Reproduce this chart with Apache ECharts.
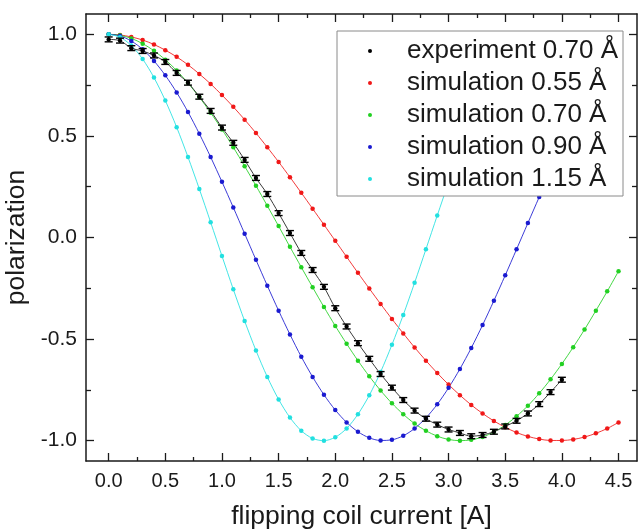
<!DOCTYPE html>
<html>
<head>
<meta charset="utf-8">
<style>
  html, body { margin: 0; padding: 0; background: #fff; }
  #chart { width: 641px; height: 531px; }
</style>
<script src="https://cdn.jsdelivr.net/npm/echarts@6/dist/echarts.min.js"></script>
</head>
<body>
<div id="chart"></div>
<script>
// Flipping coil current [A] for the simulated curves
const currents = [0.0, 0.1, 0.2, 0.3, 0.4, 0.5, 0.6, 0.7, 0.8, 0.9,
  1.0, 1.1, 1.2, 1.3, 1.4, 1.5, 1.6, 1.7, 1.8, 1.9,
  2.0, 2.1, 2.2, 2.3, 2.4, 2.5, 2.6, 2.7, 2.8, 2.9,
  3.0, 3.1, 3.2, 3.3, 3.4, 3.5, 3.6, 3.7, 3.8, 3.9,
  4.0, 4.1, 4.2, 4.3, 4.4, 4.5];

// Simulated polarization, wavelength 0.55 Å
const sim055 = [1.000, 0.997, 0.987, 0.972, 0.950, 0.922, 0.889, 0.850, 0.805, 0.756,
  0.701, 0.643, 0.580, 0.514, 0.444, 0.372, 0.297, 0.220, 0.142, 0.063,
  -0.016, -0.095, -0.174, -0.251, -0.327, -0.401, -0.472, -0.541, -0.606, -0.667,
  -0.724, -0.776, -0.824, -0.866, -0.903, -0.934, -0.960, -0.979, -0.992, -0.999,
  -0.999, -0.994, -0.982, -0.964, -0.940, -0.910];

// Simulated polarization, wavelength 0.70 Å
const sim070 = [1.000, 0.995, 0.980, 0.954, 0.919, 0.875, 0.822, 0.760, 0.691, 0.614,
  0.532, 0.444, 0.351, 0.255, 0.156, 0.056, -0.046, -0.146, -0.245, -0.342,
  -0.435, -0.523, -0.606, -0.683, -0.753, -0.816, -0.870, -0.916, -0.951, -0.978,
  -0.994, -1.000, -0.996, -0.982, -0.957, -0.923, -0.880, -0.828, -0.767, -0.698,
  -0.622, -0.540, -0.453, -0.360, -0.265, -0.166];

// Simulated polarization, wavelength 0.90 Å
const sim090 = [1.000, 0.992, 0.967, 0.926, 0.869, 0.798, 0.714, 0.618, 0.511, 0.396,
  0.274, 0.148, 0.019, -0.110, -0.237, -0.360, -0.477, -0.587, -0.686, -0.774,
  -0.849, -0.910, -0.956, -0.986, -0.999, -0.996, -0.976, -0.940, -0.888, -0.821,
  -0.740, -0.647, -0.544, -0.431, -0.311, -0.186, -0.058, 0.071, 0.199, 0.324,
  0.443, 0.555, 0.657, 0.749, 0.828, 0.894];

// Simulated polarization, wavelength 1.15 Å
const sim115 = [1.000, 0.986, 0.945, 0.878, 0.787, 0.674, 0.543, 0.396, 0.239, 0.075,
  -0.091, -0.255, -0.411, -0.556, -0.686, -0.797, -0.886, -0.951, -0.989, -1.000,
  -0.983, -0.940, -0.870, -0.777, -0.662, -0.528, -0.381, -0.223, -0.058, 0.108,
  0.271, 0.426, 0.570, 0.698, 0.807, 0.894, 0.956, 0.991, 0.999, 0.980,
  0.934, 0.862, 0.766, 0.648, 0.512, 0.362];

// Measured polarization at 0.70 Å
const expCurrents = [0.0, 0.1, 0.2, 0.3, 0.4, 0.5, 0.6, 0.7, 0.8, 0.9,
  1.0, 1.1, 1.2, 1.3, 1.4, 1.5, 1.6, 1.7, 1.8, 1.9,
  2.0, 2.1, 2.2, 2.3, 2.4, 2.5, 2.6, 2.7, 2.8, 2.9,
  3.0, 3.1, 3.2, 3.3, 3.4, 3.5, 3.6, 3.7, 3.8, 3.9, 4.0];
const expValues = [0.975, 0.969, 0.932, 0.918, 0.896, 0.864, 0.810, 0.762, 0.693, 0.623,
  0.541, 0.466, 0.382, 0.293, 0.214, 0.120, 0.022, -0.076, -0.160, -0.243,
  -0.348, -0.438, -0.520, -0.597, -0.672, -0.739, -0.800, -0.852, -0.892, -0.921,
  -0.945, -0.962, -0.978, -0.972, -0.956, -0.930, -0.902, -0.866, -0.820, -0.761, -0.700];
const expErrors = [0.012, 0.012, 0.012, 0.012, 0.012, 0.012, 0.012, 0.012, 0.012, 0.012,
  0.012, 0.012, 0.012, 0.012, 0.012, 0.012, 0.012, 0.012, 0.012, 0.012,
  0.012, 0.012, 0.012, 0.012, 0.012, 0.012, 0.012, 0.012, 0.012, 0.012,
  0.012, 0.012, 0.012, 0.012, 0.012, 0.012, 0.012, 0.012, 0.012, 0.012, 0.012];

// Tick positions
const xMajor = [0.0, 0.5, 1.0, 1.5, 2.0, 2.5, 3.0, 3.5, 4.0, 4.5];
const xMinor = [0.25, 0.75, 1.25, 1.75, 2.25, 2.75, 3.25, 3.75, 4.25];
const yMajor = [-1.0, -0.5, 0.0, 0.5, 1.0];
const yMinor = [-0.75, -0.25, 0.25, 0.75];

const seriesNames = ['experiment 0.70 Å', 'simulation 0.55 Å', 'simulation 0.70 Å',
  'simulation 0.90 Å', 'simulation 1.15 Å'];
const simColors = ['#f01818', '#22d022', '#1a1ad0', '#22e0e0'];

const FONT = '"Liberation Sans", Arial, Helvetica, sans-serif';
const X_MIN = -0.2, X_MAX = 4.663, Y_MIN = -1.1, Y_MAX = 1.1;
const INK = '#1a1a1a';

function pairs(xs, ys) { return xs.map((x, i) => [x, ys[i]]); }

function xAxisDef(position, ticks, len, withLine, withLabels) {
  return {
    type: 'value', position: position, min: X_MIN, max: X_MAX, gridIndex: 0,
    axisLine: { show: withLine, onZero: false, lineStyle: { color: INK, width: 1.5 } },
    axisTick: { show: true, inside: true, length: len, customValues: ticks,
      lineStyle: { color: INK, width: 1.3 } },
    axisLabel: withLabels ? {
      show: true, customValues: ticks, margin: 10, fontSize: 20, color: INK, fontFamily: FONT,
      formatter: v => v.toFixed(1)
    } : { show: false },
    splitLine: { show: false }
  };
}
function yAxisDef(position, ticks, len, withLine, withLabels) {
  return {
    type: 'value', position: position, min: Y_MIN, max: Y_MAX, gridIndex: 0,
    axisLine: { show: withLine, onZero: false, lineStyle: { color: INK, width: 1.5 } },
    axisTick: { show: true, inside: true, length: len, customValues: ticks,
      lineStyle: { color: INK, width: 1.3 } },
    axisLabel: withLabels ? {
      show: true, customValues: ticks, margin: 9, fontSize: 21, color: INK, fontFamily: FONT,
      formatter: v => v.toFixed(1)
    } : { show: false },
    splitLine: { show: false }
  };
}

const xAxes = [
  xAxisDef('bottom', xMajor, 8, true, true),
  xAxisDef('bottom', xMinor, 4, false, false),
  xAxisDef('top', xMajor, 8, true, false),
  xAxisDef('top', xMinor, 4, false, false)
];
xAxes[0].name = 'flipping coil current [A]';
xAxes[0].nameLocation = 'middle';
xAxes[0].nameGap = 42;
xAxes[0].nameTextStyle = { fontSize: 26.5, color: INK, fontFamily: FONT };

const yAxes = [
  yAxisDef('left', yMajor, 8, true, true),
  yAxisDef('left', yMinor, 5, false, false),
  yAxisDef('right', yMajor, 8, true, false),
  yAxisDef('right', yMinor, 5, false, false)
];
yAxes[0].name = 'polarization';
yAxes[0].nameLocation = 'middle';
yAxes[0].nameGap = 46;
yAxes[0].nameTextStyle = { fontSize: 26.5, color: INK, fontFamily: FONT };

const simData = [sim055, sim070, sim090, sim115];
const series = [];

// measured curve (connecting line)
series.push({
  name: seriesNames[0], type: 'line', xAxisIndex: 0, yAxisIndex: 0,
  data: pairs(expCurrents, expValues), smooth: 0.3, showSymbol: false, symbol: 'circle',
  itemStyle: { color: '#000' }, lineStyle: { color: '#3a3a3a', width: 1 }, z: 4
});

simData.forEach((vals, k) => {
  series.push({
    name: seriesNames[k + 1], type: 'line', xAxisIndex: 0, yAxisIndex: 0,
    data: pairs(currents, vals), smooth: 0.3, symbol: 'circle', symbolSize: 4.5,
    itemStyle: { color: simColors[k] }, lineStyle: { color: simColors[k], width: 1, opacity: 0.85 },
    z: 3
  });
});

// measured points with error bars
series.push({
  type: 'custom', xAxisIndex: 0, yAxisIndex: 0, z: 5, clip: true,
  data: expCurrents.map((x, i) => [x, expValues[i], expErrors[i]]),
  renderItem: function (params, api) {
    const x = api.value(0), y = api.value(1), e = api.value(2);
    const top = api.coord([x, y + e]);
    const bot = api.coord([x, y - e]);
    const mid = api.coord([x, y]);
    const hw = 4;
    const st = { stroke: '#000', lineWidth: 1.4 };
    return {
      type: 'group',
      children: [
        { type: 'line', shape: { x1: top[0], y1: top[1], x2: bot[0], y2: bot[1] }, style: st },
        { type: 'line', shape: { x1: top[0] - hw, y1: top[1], x2: top[0] + hw, y2: top[1] }, style: st },
        { type: 'line', shape: { x1: bot[0] - hw, y1: bot[1], x2: bot[0] + hw, y2: bot[1] }, style: st },
        { type: 'circle', shape: { cx: mid[0], cy: mid[1], r: 2.2 }, style: { fill: '#000' } }
      ]
    };
  }
});

const chart = echarts.init(document.getElementById('chart'), null, { renderer: 'canvas' });
chart.setOption({
  animation: false,
  backgroundColor: '#fff',
  textStyle: { fontFamily: FONT },
  grid: { left: 86, right: 4, top: 14, bottom: 70, containLabel: false, outerBoundsMode: 'none' },
  xAxis: xAxes,
  yAxis: yAxes,
  legend: {
    data: seriesNames,
    orient: 'vertical',
    left: 337, top: 31,
    padding: [7, 5, 4, 31],
    itemGap: 6,
    itemWidth: 64, itemHeight: 4,
    icon: 'circle',
    backgroundColor: '#fff',
    borderColor: '#8a8a8a', borderWidth: 1,
    textStyle: { fontSize: 26, lineHeight: 26, color: INK, fontFamily: FONT },
    selectedMode: false,
    z: 10
  },
  series: series
});
</script>
</body>
</html>
